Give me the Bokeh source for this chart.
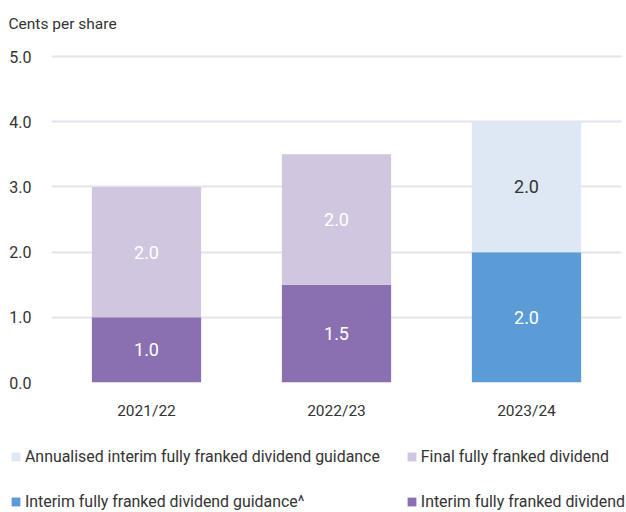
from bokeh.plotting import figure
from bokeh.layouts import column
from bokeh.models import ColumnDataSource, Legend, LegendItem, FactorRange, Range1d, FixedTicker, NumeralTickFormatter
from bokeh.core.properties import value
from bokeh.embed import file_html
from bokeh.resources import INLINE

years = ["2021/22", "2022/23", "2023/24"]
interim = [1.0, 1.5, 0.0]
interim_guidance = [0.0, 0.0, 2.0]
final = [2.0, 2.0, 0.0]
annualised_guidance = [0.0, 0.0, 2.0]
y_ticks = [0.0, 1.0, 2.0, 3.0, 4.0, 5.0]

series = ["interim", "interim_guidance", "final", "annualised_guidance"]
names = {
    "interim": "Interim fully franked dividend",
    "interim_guidance": "Interim fully franked dividend guidance^",
    "final": "Final fully franked dividend",
    "annualised_guidance": "Annualised interim fully franked dividend guidance",
}
colors = {
    "interim": "#8A70B0",
    "interim_guidance": "#5B9BD6",
    "final": "#D1C6E0",
    "annualised_guidance": "#DEE8F4",
}
label_colors = {
    "interim": "#FFFFFF",
    "interim_guidance": "#FFFFFF",
    "final": "#FFFFFF",
    "annualised_guidance": "#333333",
}

FONT = "Roboto"
data = dict(years=years, interim=interim, interim_guidance=interim_guidance,
            final=final, annualised_guidance=annualised_guidance)
src = ColumnDataSource(data)

p = figure(x_range=FactorRange(*years), y_range=Range1d(0, 5.17),
           width=626, height=440, output_backend="svg", toolbar_location=None,
           min_border_left=51, min_border_right=5, min_border_top=6, min_border_bottom=58)
p.outline_line_color = None
p.frame_align = False

renderers = p.vbar_stack(series, x="years", width=0.575, source=src,
                         color=[colors[s] for s in series], line_color=None)

# segment labels
lx, ly, lt, lc = [], [], [], []
for i, yr in enumerate(years):
    base = 0.0
    for s in series:
        v = data[s][i]
        if v > 0:
            lx.append(yr)
            ly.append(base + v / 2)
            lt.append("%.1f" % v)
            lc.append(label_colors[s])
        base += v
lsrc = ColumnDataSource(dict(x=lx, y=ly, t=lt, c=lc))
p.text(x="x", y="y", text="t", source=lsrc, text_color="c", text_align="center",
       text_baseline="middle", text_font=value(FONT), text_font_size="18px")

p.title.text = "Cents per share"
p.title.text_font = FONT
p.title.text_font_size = "15.5px"
p.title.text_font_style = "normal"
p.title.text_color = "#333333"
p.title.offset = -43
p.title.standoff = 25

p.yaxis.ticker = FixedTicker(ticks=y_ticks)
p.yaxis.formatter = NumeralTickFormatter(format="0.0")
p.yaxis.axis_line_color = None
p.yaxis.major_tick_line_color = None
p.yaxis.minor_tick_line_color = None
p.yaxis.major_label_standoff = 14
p.yaxis.major_label_text_font = FONT
p.yaxis.major_label_text_font_size = "16px"
p.yaxis.major_label_text_color = "#333333"

p.xaxis.axis_line_color = None
p.xaxis.major_tick_line_color = None
p.xaxis.major_label_standoff = 13
p.xaxis.major_label_text_font = FONT
p.xaxis.major_label_text_font_size = "15.5px"
p.xaxis.major_label_text_color = "#333333"

p.xgrid.grid_line_color = None
p.ygrid.grid_line_color = "#E6E2F0"
p.ygrid.grid_line_width = 2

# legend in its own strip below the chart; its bars sit far outside the visible y range
lg = figure(width=626, height=72, output_backend="svg", toolbar_location=None,
            x_axis_type=None, y_axis_type=None,
            x_range=FactorRange(*years), y_range=Range1d(50, 51),
            min_border_left=0, min_border_right=0, min_border_top=0, min_border_bottom=0)
lg.outline_line_color = None
lg.frame_align = False
lg.xgrid.visible = False
lg.ygrid.visible = False
swatches = lg.vbar_stack(series, x="years", width=0.575, source=src,
                         color=[colors[s] for s in series], line_color=None)
swatch = dict(zip(series, swatches))

# column-major fill: col 1 = annualised, interim guidance; col 2 = final, interim
order = ["annualised_guidance", "interim_guidance", "final", "interim"]
items = [LegendItem(label=names[s], renderers=[swatch[s]]) for s in order]
legend = Legend(items=items, ncols=2, location=(10, 1),
                label_text_font=FONT, label_text_font_size="15.9px", label_text_color="#333333",
                glyph_width=11, glyph_height=11, label_standoff=4, spacing=26,
                label_height=17, padding=0, margin=0, border_line_color=None,
                background_fill_alpha=0)
lg.add_layout(legend, "center")

open("out.html", "w").write(file_html(column(p, lg, spacing=0), INLINE))
